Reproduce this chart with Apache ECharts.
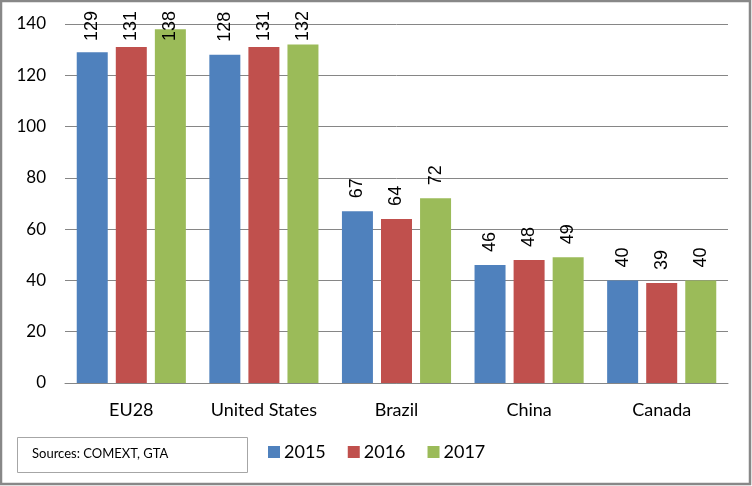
<!DOCTYPE html>
<html>
<head>
<meta charset="utf-8">
<script src="https://cdn.jsdelivr.net/npm/echarts@6/dist/echarts.min.js"></script>
<style>
html,body{margin:0;padding:0;background:#fff;}
#chart{width:752px;height:486px;}
</style>
</head>
<body>
<div id="chart"></div>
<script>
const categories = ['EU28', 'United States', 'Brazil', 'China', 'Canada'];
const seriesNames = ['2015', '2016', '2017'];
const values2015 = [129, 128, 67, 46, 40];
const values2016 = [131, 131, 64, 48, 39];
const values2017 = [138, 132, 72, 49, 40];
const yTicks = { min: 0, max: 140, interval: 20 };
const sourceText = 'Sources: COMEXT, GTA';

const colors = ['#4F81BD', '#C0504D', '#9BBB59'];
const allValues = [values2015, values2016, values2017];

const chart = echarts.init(document.getElementById('chart'), null, { renderer: 'canvas' });

const LABEL_GAP = 13;
const LABEL_MAX_BOTTOM = 41;

function makeSeries(dataFn) {
  return seriesNames.map((name, i) => ({
    name: name,
    type: 'bar',
    data: dataFn(i),
    barWidth: 31,
    barGap: '26%',
    itemStyle: { color: colors[i] },
    label: {
      show: true,
      position: 'top',
      distance: LABEL_GAP,
      rotate: 90,
      align: 'left',
      verticalAlign: 'middle',
      fontFamily: 'Liberation Sans',
      fontSize: 18,
      color: '#000',
      overflow: 'none'
    }
  }));
}

chart.setOption({
  animation: false,
  backgroundColor: '#fff',
  color: colors,
  grid: { left: 65, right: 24, top: 24, bottom: 103, containLabel: false },
  xAxis: {
    type: 'category',
    data: categories,
    axisLine: { show: true, lineStyle: { color: '#868686', width: 1 } },
    axisTick: { show: false },
    axisLabel: { fontFamily: 'Lato', fontSize: 18, color: '#000', margin: 18, interval: 0, hideOverlap: false }
  },
  yAxis: {
    type: 'value',
    min: yTicks.min,
    max: yTicks.max,
    interval: yTicks.interval,
    axisLine: { show: false },
    axisTick: { show: false },
    splitLine: { show: true, lineStyle: { color: '#868686', width: 1 } },
    axisLabel: { fontFamily: 'Lato', fontSize: 17, color: '#000', margin: 19 }
  },
  legend: {
    data: seriesNames,
    left: 268,
    top: 443,
    itemWidth: 12,
    itemHeight: 12,
    itemGap: 22,
    icon: 'rect',
    textStyle: { fontFamily: 'Lato', fontSize: 18, color: '#000', padding: [0, 0, 0, -1] },
    padding: 0
  },
  graphic: [
    {
      type: 'rect',
      shape: { x: 1, y: 1, width: 749, height: 483 },
      style: { fill: 'none', stroke: '#888888', lineWidth: 2.5 },
      silent: true
    },
    {
      type: 'rect',
      shape: { x: 17.5, y: 437.5, width: 230, height: 35 },
      style: { fill: 'none', stroke: '#a6a6a6', lineWidth: 1 },
      silent: true
    },
    {
      type: 'text',
      x: 32,
      y: 454,
      style: { text: sourceText, fontFamily: 'Lato', fontSize: 13, fill: '#000', verticalAlign: 'middle' },
      silent: true
    }
  ],
  series: makeSeries(i => allValues[i])
});

// Clamp labels inside the chart area like the original (labels near the top are pushed down)
chart.setOption({
  series: makeSeries(i => allValues[i].map((v, c) => {
    const topPx = chart.convertToPixel({ xAxisIndex: 0, yAxisIndex: 0 }, [c, v])[1];
    const dist = Math.min(LABEL_GAP, topPx - LABEL_MAX_BOTTOM);
    return { value: v, label: { distance: dist } };
  }))
});
</script>
</body>
</html>
